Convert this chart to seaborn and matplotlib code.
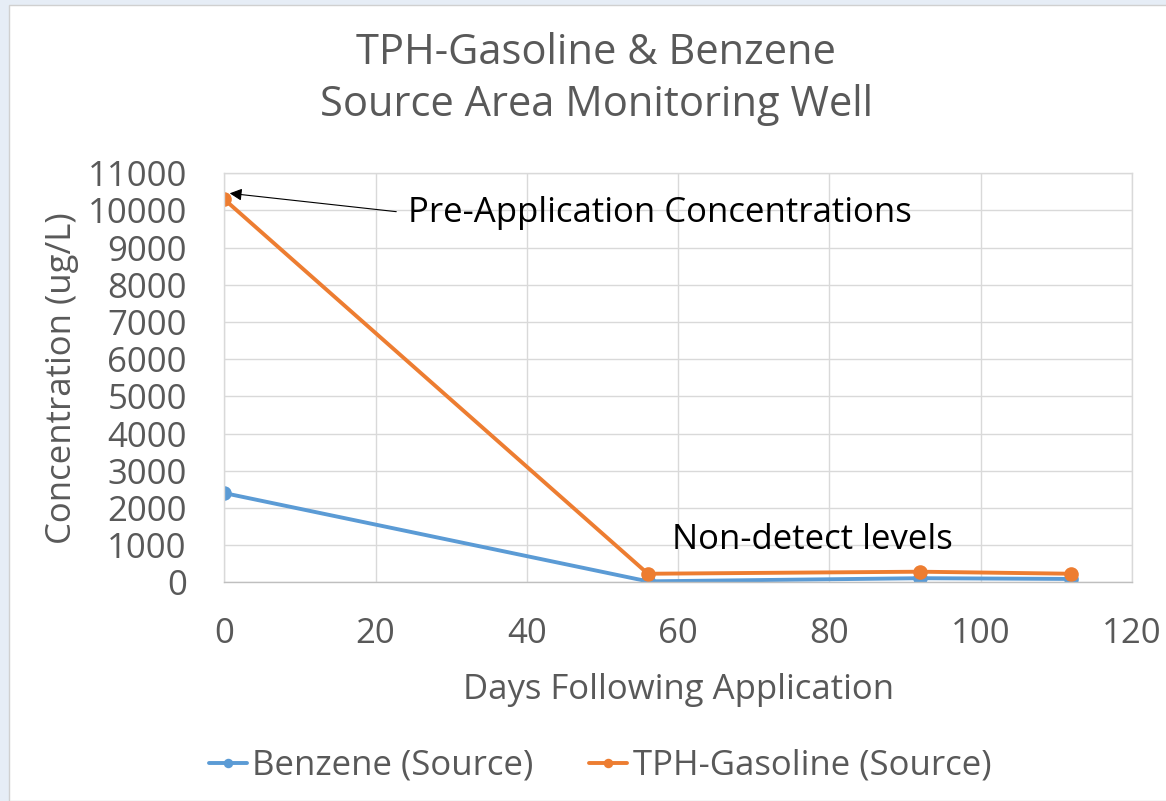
import numpy as np
import pandas as pd
import matplotlib.pyplot as plt
import seaborn as sns
from matplotlib.patches import Rectangle

# data
days = [0, 56, 92, 112]
benzene = [2400, 25, 110, 90]
tph_gasoline = [10300, 230, 285, 230]
series_names = ["Benzene (Source)", "TPH-Gasoline (Source)"]
colors = ["#5B9BD5", "#ED7D31"]

df = pd.DataFrame({
    "Days": days * 2,
    "Conc": benzene + tph_gasoline,
    "Series": [series_names[0]] * len(days) + [series_names[1]] * len(days),
})

sns.set_theme(style="white")
plt.rcParams["font.family"] = ["Open Sans", "DejaVu Sans"]
grey = "#595959"

fig = plt.figure(figsize=(11.66, 8.01), dpi=100)
fig.patch.set_facecolor("#e6edf6")
fig.add_artist(Rectangle((9 / 1166, 0), 1, 1 - 5 / 801, transform=fig.transFigure,
                         facecolor="white", edgecolor="#d0d0d0", lw=1, zorder=0))

ax = fig.add_axes([224.3 / 1166, 1 - 582.3 / 801, (1132 - 224.3) / 1166, (582.3 - 173.3) / 801])
ax.set_facecolor("white")

sns.lineplot(data=df, x="Days", y="Conc", hue="Series", palette=colors,
             marker="o", markersize=10.5, markeredgewidth=0, linewidth=2.8, ax=ax)

ax.set_xlim(0, 120)
ax.set_ylim(0, 11000)
ax.set_xticks(np.arange(0, 121, 20))
ax.set_yticks(np.arange(0, 11001, 1000))
ax.grid(True, color="#d9d9d9", linewidth=1)
ax.set_axisbelow(True)
for s in ax.spines.values():
    s.set_color("#d9d9d9")
    s.set_linewidth(1)
ax.spines["bottom"].set_color("#bfbfbf")
ax.tick_params(axis="both", labelsize=25, colors=grey, length=0)
ax.tick_params(axis="x", pad=25)
ax.tick_params(axis="y", pad=27)

ax.set_xlabel("Days Following Application", fontsize=25, color=grey, labelpad=16)
ax.set_ylabel("Concentration (ug/L)", fontsize=25, color=grey, labelpad=6)

fig.text(596 / 1166, 1 - 79 / 801, "TPH-Gasoline & Benzene\nSource Area Monitoring Well",
         ha="center", va="center", fontsize=30, color=grey, linespacing=1.32)

ax.annotate("", xy=(0.35, 10470), xytext=(23.1, 9960),
            arrowprops=dict(arrowstyle="-|>", color="black", lw=0.8, mutation_scale=18))
ax.text(24.3, 9920, "Pre-Application Concentrations", fontsize=25, color="black",
        ha="left", va="center")
ax.text(59.2, 1150, "Non-detect levels", fontsize=25, color="black", ha="left", va="center")

ax.get_legend().remove()
handles, labels = ax.get_legend_handles_labels()
fig.legend(handles, labels, loc="center", bbox_to_anchor=(600 / 1166, 1 - 766 / 801),
           ncol=2, frameon=False, fontsize=25, labelcolor=grey, handlelength=1.1,
           handletextpad=0.15, columnspacing=1.6, markerscale=0.65)

fig.savefig("out.png", dpi=100, facecolor=fig.get_facecolor())
